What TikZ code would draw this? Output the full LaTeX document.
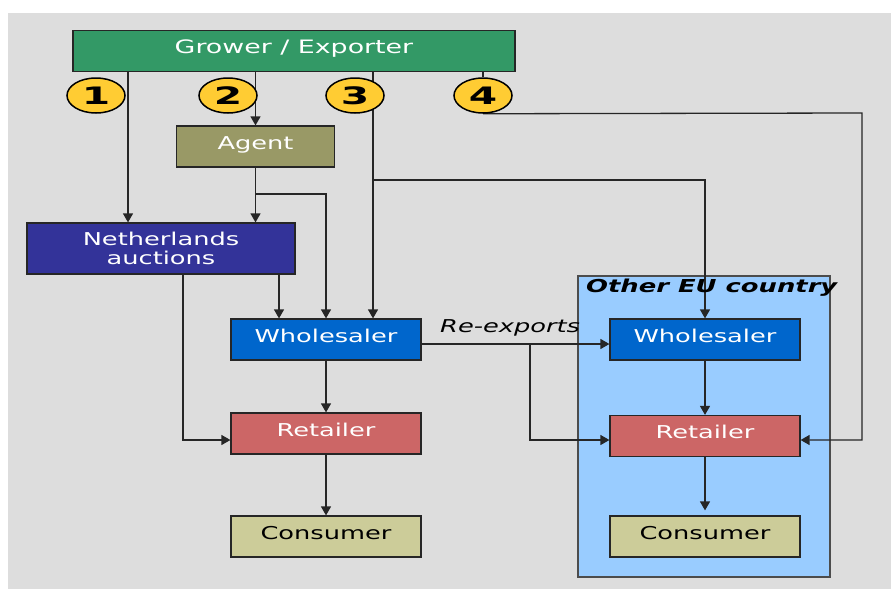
\documentclass[tikz,border=0pt]{standalone}
\usepackage{fontspec}
\setmainfont[FakeStretch=1.45]{DejaVu Sans}
\newfontfamily\digitfont[FakeStretch=1.7]{DejaVu Sans}
\usetikzlibrary{calc,positioning,shapes.geometric,arrows.meta,backgrounds}

\definecolor{panelgray}{HTML}{DDDDDD}
\definecolor{growgreen}{HTML}{339966}
\definecolor{agentolive}{HTML}{999966}
\definecolor{auctionblue}{HTML}{333399}
\definecolor{tradeblue}{HTML}{0066CC}
\definecolor{shopred}{HTML}{CC6666}
\definecolor{buyerkhaki}{HTML}{CCCC99}
\definecolor{eublue}{HTML}{99CCFF}
\definecolor{discyellow}{HTML}{FFCC33}

\tikzset{
	box/.style={draw=black!85, line width=1.2pt, minimum width=190pt, minimum height=41pt,
		inner sep=0pt, text=white, font=\fontsize{17.7}{19}\selectfont},
	lifted/.style={text height=12pt, text depth=7pt},
	numdisc/.style={ellipse, draw=black, line width=1.5pt, fill=discyellow,
		minimum width=58pt, minimum height=35pt, inner sep=0pt,
		font=\digitfont\bfseries\fontsize{24}{24}\selectfont},
	flow/.style={draw=black!85, line width=1.3pt},
	arr/.style={flow, -{Triangle[length=9pt,width=10pt]}}
}

\begin{document}
\begin{tikzpicture}[x=1pt,y=-1pt]
				\node[box, lifted, fill=growgreen, minimum width=442pt, font=\fontsize{18.5}{20}\selectfont] (grower) at (294,51) {Grower / Exporter};
				\node[box, lifted, fill=agentolive, minimum width=158pt] (agent) at (255.5,146.5) {Agent};
				\node[box, fill=auctionblue, minimum width=268pt, minimum height=51pt, align=center] (neth) at (161,248.5) {Netherlands\\auctions};
				\node[box, lifted, fill=tradeblue] (whole) at (326,339.5) {Wholesaler};
				\node[box, lifted, fill=shopred] (ret) at (326,433.5) {Retailer};
				\node[box, lifted, fill=buyerkhaki, text=black] (cons) at (326,536.5) {Consumer};
				
				\node[box, lifted, fill=tradeblue] (euwhole) at (705,339.5) {Wholesaler};
				\node[box, lifted, fill=shopred] (euret) at (705,436) {Retailer};
				\node[box, lifted, fill=buyerkhaki, text=black] (eucons) at (705,536.5) {Consumer};
				
				\foreach \n/\x in {1/96,2/228,3/355,4/483}{
					\node[numdisc] (c\n) at (\x,95.5) {\n};}
				
				\node[anchor=base west, inner sep=0pt, font=\bfseries\itshape\fontsize{17.8}{20}\selectfont] (eulabel) at (586,292) {Other EU country};
				\node[anchor=base west, inner sep=0pt, font=\itshape\fontsize{17.7}{20}\selectfont] (relabel) at (440,332) {Re-exports};
				
				\coordinate (x1) at (128,0);
				\coordinate (x3) at (373,180);
				\coordinate (ab) at (255.5,194);
				\coordinate (x5) at (279,0);
				\coordinate (nl) at (183,440);
				\coordinate (k4) at (862,113);
				\coordinate (k4b) at (862,440);
				\coordinate (rx) at (530,344);
				\coordinate (rb) at (530,440);
				
				\begin{scope}[on background layer]
					\fill[white] (0,0) rectangle (891,589);
					\fill[panelgray] (8,13) rectangle (891,589);
					\node[draw=black!70, line width=1.2pt, fill=eublue, minimum width=252pt, minimum height=301pt, inner sep=0pt] (eu) at (704,426.5) {};
					
					\draw[arr] (grower.south -| x1) -- (neth.north -| x1);
					\draw[arr] (grower.south -| agent) -- (agent);
					\draw[arr] (grower.south -| x3) -- (whole.north -| x3);
					\draw[arr] (x3) -| (euwhole.north);
					\draw[flow] (grower.south -| c4) -- (c4);
					\draw[arr] (c4.south) -- (k4) -- (k4b) -- (k4b -| euret.east);
					
					\draw[arr] (agent.south) -- (agent.south |- neth.north);
					\draw[arr] (ab) -| (whole.north);
					\draw[arr] (neth.south -| x5) -- (whole.north -| x5);
					\draw[arr] (neth.south -| nl) -- (nl) -- (nl -| ret.west);
					
					\draw[arr] (whole) -- (ret);
					\draw[arr] (ret) -- (cons);
					\draw[arr] (rx -| whole.east) -- (rx -| euwhole.west);
					\draw[arr] (rx) -- (rb) -- (rb -| euret.west);
					\draw[arr] (euwhole) -- (euret);
					\draw[arr, shorten >=5pt] (euret) -- (eucons);
				\end{scope}
\end{tikzpicture}
\end{document}
